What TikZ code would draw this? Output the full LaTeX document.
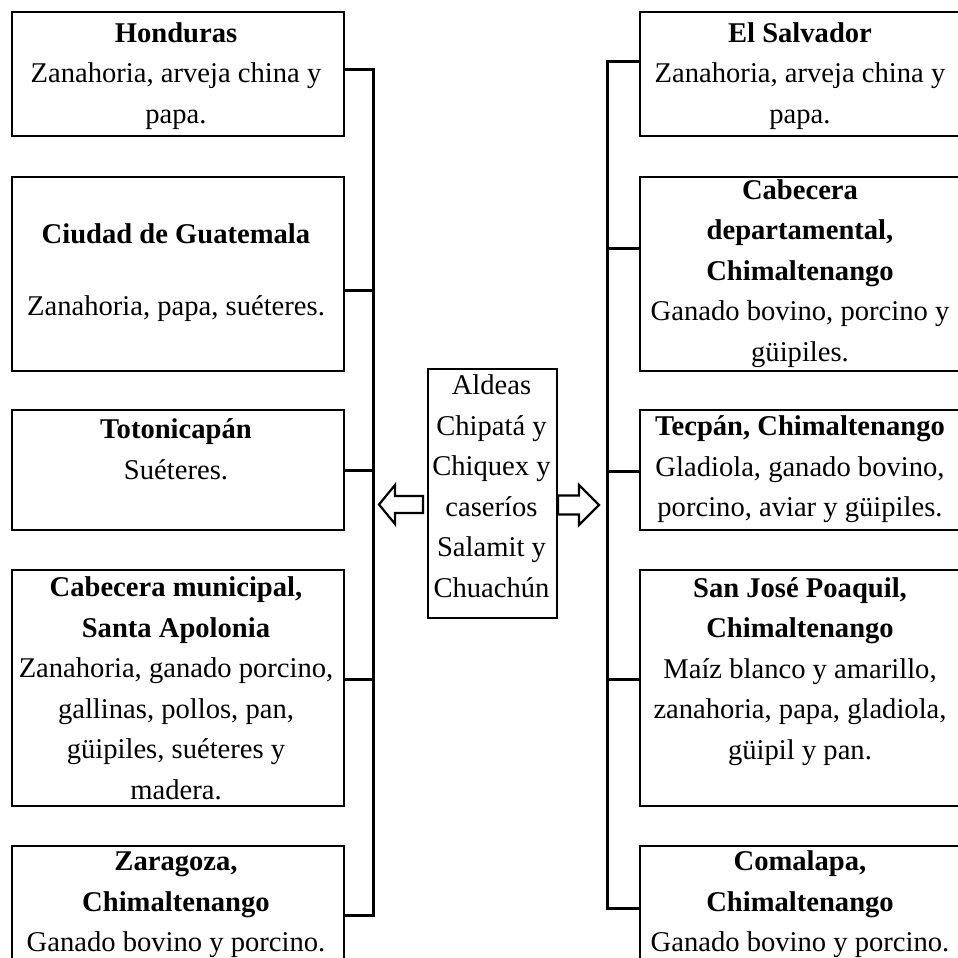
\documentclass[tikz,border=0pt]{standalone}
\usepackage{fontspec}
\setmainfont{Liberation Serif}
\begin{document}
\begin{tikzpicture}[x=1pt,y=-1pt,
  box/.style={draw, line width=2.4pt, rectangle, inner sep=0pt, anchor=north west},
  txt/.style={align=center, inner sep=0pt, font=\fontsize{28.6}{40.5}\selectfont},
  conn/.style={line width=3pt},
  hollow/.style={draw, line width=2.2pt, fill=white, line join=miter}]
\clip (0,0) rectangle (958,958);
% left boxes
\node[box, minimum width=332, minimum height=124] (hon) at (11,11) {};
\node[box, minimum width=332, minimum height=194] (cdg) at (11,176) {};
\node[box, minimum width=332, minimum height=120] (tot) at (11,409) {};
\node[box, minimum width=332, minimum height=236] (cmu) at (11,569) {};
\node[box, minimum width=332, minimum height=122] (zar) at (11,845) {};
% right boxes
\node[box, minimum width=326, minimum height=124] (els) at (639,11) {};
\node[box, minimum width=326, minimum height=194] (cdd) at (639,176) {};
\node[box, minimum width=326, minimum height=120] (tec) at (639,409) {};
\node[box, minimum width=326, minimum height=236] (sjp) at (639,569) {};
\node[box, minimum width=326, minimum height=122] (com) at (639,845) {};
% centre box
\node[box, minimum width=129, minimum height=249] (cen) at (427,368) {};
% texts
\node[txt] (honT) at (176,74.5) {\strut\textbf{Honduras}\\Zanahoria, arveja china y\\papa.\strut};
\node[txt] (cdgT) at (176,271) {\strut\textbf{Ciudad de Guatemala}\\[31.5pt]Zanahoria, papa, suéteres.\strut};
\node[txt] (totT) at (176,451) {\strut\textbf{Totonicapán}\\Suéteres.\strut};
\node[txt] (cmuT) at (176,690) {\strut\textbf{Cabecera municipal,}\\\textbf{Santa Apolonia}\\Zanahoria, ganado porcino,\\gallinas, pollos, pan,\\güipiles, suéteres y\\madera.\strut};
\node[txt] (zarT) at (176,903) {\strut\textbf{Zaragoza,}\\\textbf{Chimaltenango}\\Ganado bovino y porcino.\strut};
\node[txt] (elsT) at (800,74.5) {\strut\textbf{El Salvador}\\Zanahoria, arveja china y\\papa.\strut};
\node[txt] (cddT) at (800,272) {\strut\textbf{Cabecera}\\\textbf{departamental,}\\\textbf{Chimaltenango}\\Ganado bovino, porcino y\\güipiles.\strut};
\node[txt] (tecT) at (800,468) {\strut\textbf{Tecpán, Chimaltenango}\\Gladiola, ganado bovino,\\porcino, aviar y güipiles.\strut};
\node[txt] (sjpT) at (800,670) {\strut\textbf{San José Poaquil,}\\\textbf{Chimaltenango}\\Maíz blanco y amarillo,\\zanahoria, papa, gladiola,\\güipil y pan.\strut};
\node[txt] (comT) at (800,903) {\strut\textbf{Comalapa,}\\\textbf{Chimaltenango}\\Ganado bovino y porcino.\strut};
\node[txt] (cenT) at (491.5,488) {\strut Aldeas\\Chipatá y\\Chiquex y\\caseríos\\Salamit y\\Chuachún\strut};
% left spine
\coordinate (Ltop) at (373,70);
\coordinate (Lbot) at (373,915);
\draw[conn] (zar.east |- Lbot) -- (Lbot) -- (Ltop) -- (hon.east |- Ltop);
\draw[conn] (cdg.east |- 0,290) -- (Ltop |- 0,290);
\draw[conn] (tot.east |- 0,470) -- (Ltop |- 0,470);
\draw[conn] (cmu.east |- 0,679) -- (Ltop |- 0,679);
% right spine
\coordinate (Rtop) at (607,62);
\coordinate (Rbot) at (607,908);
\draw[conn] (els.west |- Rtop) -- (Rtop) -- (Rbot) -- (com.west |- Rbot);
\draw[conn] (Rtop |- 0,248) -- (cdd.west |- 0,248);
\draw[conn] (Rtop |- 0,471) -- (tec.west |- 0,471);
\draw[conn] (Rtop |- 0,679) -- (sjp.west |- 0,679);
% hollow arrows
\draw[hollow] (379,504.5) -- (395,485) -- (395,496) -- (423,496) -- (423,513) -- (395,513) -- (395,524) -- cycle;
\draw[hollow] (599,505) -- (579,485) -- (579,495.5) -- (558,495.5) -- (558,514.5) -- (579,514.5) -- (579,525) -- cycle;
\end{tikzpicture}
\end{document}
